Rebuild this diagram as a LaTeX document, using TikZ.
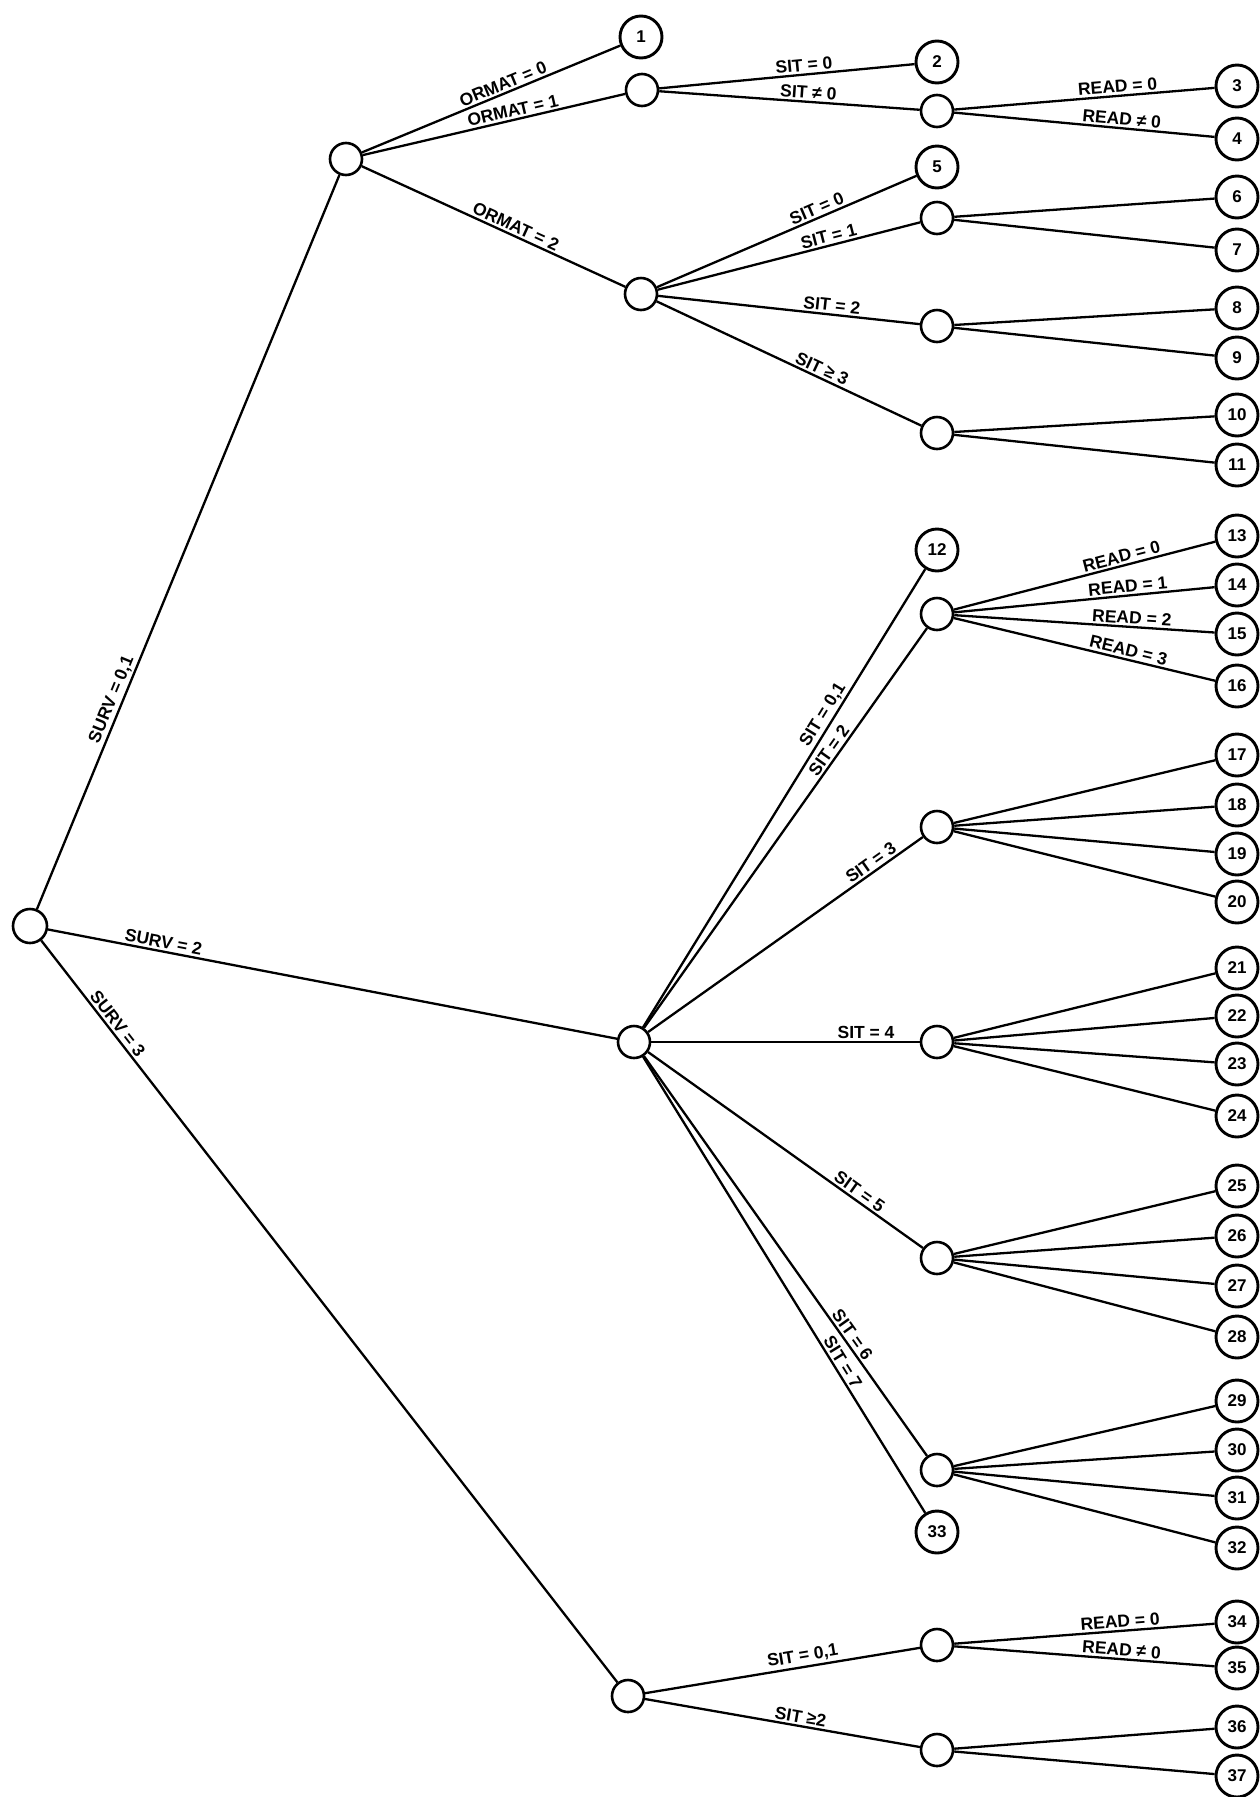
\documentclass[tikz,border=0pt]{standalone}
\usepackage{fontspec}
\setmainfont{Liberation Sans}
\begin{document}
\begin{tikzpicture}[x=1pt,y=-1pt,
  inner/.style={circle,draw,line width=2.6pt,minimum size=32pt,inner sep=0pt},
  leaf/.style={circle,draw,line width=2.9pt,minimum size=42pt,inner sep=0pt,font=\fontsize{17}{20}\selectfont\bfseries},
  edge/.style={line width=2.3pt},
  lab/.style={sloped,above,inner sep=2pt,font=\fontsize{17.5}{20}\selectfont\bfseries}]
\useasboundingbox[fill=white] (0,0) rectangle (1259,1797);
% nodes
\node[inner,minimum size=34pt] (root) at (30,926) {};
\node[inner] (A) at (346,159) {};
\node[leaf] (l1) at (641,37) {1};
\node[inner] (B) at (642,90) {};
\node[inner] (C) at (641,294) {};
\node[leaf] (l2) at (937,62) {2};
\node[inner] (D) at (937,111) {};
\node[leaf] (l3) at (1237,86) {3};
\node[leaf] (l4) at (1237,139) {4};
\node[leaf] (l5) at (937,167) {5};
\node[inner] (E) at (937,218) {};
\node[leaf] (l6) at (1237,197) {6};
\node[leaf] (l7) at (1237,250) {7};
\node[inner] (F) at (937,326) {};
\node[leaf] (l8) at (1237,308) {8};
\node[leaf] (l9) at (1237,358) {9};
\node[inner] (G) at (937,433) {};
\node[leaf] (l10) at (1237,415) {10};
\node[leaf] (l11) at (1237,465) {11};
\node[inner] (M) at (634,1042) {};
\node[leaf] (l12) at (937,550) {12};
\node[inner] (H) at (937,614) {};
\node[leaf] (l13) at (1237,536) {13};
\node[leaf] (l14) at (1237,585) {14};
\node[leaf] (l15) at (1237,634) {15};
\node[leaf] (l16) at (1237,686) {16};
\node[inner] (I) at (937,827) {};
\node[leaf] (l17) at (1237,755) {17};
\node[leaf] (l18) at (1237,805) {18};
\node[leaf] (l19) at (1237,854) {19};
\node[leaf] (l20) at (1237,902) {20};
\node[inner] (J) at (937,1042) {};
\node[leaf] (l21) at (1237,968) {21};
\node[leaf] (l22) at (1237,1016) {22};
\node[leaf] (l23) at (1237,1064) {23};
\node[leaf] (l24) at (1237,1116) {24};
\node[inner] (K) at (937,1258) {};
\node[leaf] (l25) at (1237,1186) {25};
\node[leaf] (l26) at (1237,1236) {26};
\node[leaf] (l27) at (1237,1286) {27};
\node[leaf] (l28) at (1237,1337) {28};
\node[inner] (Q) at (937,1470) {};
\node[leaf] (l29) at (1237,1401) {29};
\node[leaf] (l30) at (1237,1450) {30};
\node[leaf] (l31) at (1237,1498) {31};
\node[leaf] (l32) at (1237,1548) {32};
\node[leaf] (l33) at (937,1532) {33};
\node[inner] (N) at (628,1696) {};
\node[inner] (O) at (937,1645) {};
\node[leaf] (l34) at (1237,1622) {34};
\node[leaf] (l35) at (1237,1668) {35};
\node[inner] (P) at (937,1750) {};
\node[leaf] (l36) at (1237,1727) {36};
\node[leaf] (l37) at (1237,1776) {37};
% edges
\draw[edge] (root) -- node[lab,pos=0.28] {SURV = 0,1} (A);
\draw[edge] (root) -- node[lab,pos=0.2] {SURV = 2} (M);
\draw[edge] (root) -- node[lab,pos=0.12] {SURV = 3} (N);
\draw[edge] (A) -- node[lab,pos=0.56] {ORMAT = 0} (l1);
\draw[edge] (A) -- node[lab,pos=0.58] {ORMAT = 1} (B);
\draw[edge] (A) -- node[lab,pos=0.57] {ORMAT = 2} (C);
\draw[edge] (B) -- node[lab,pos=0.57] {SIT = 0} (l2);
\draw[edge] (B) -- node[lab,pos=0.57] {SIT ≠ 0} (D);
\draw[edge] (D) -- node[lab,pos=0.63] {READ = 0} (l3);
\draw[edge] (D) -- node[lab,pos=0.64] {READ ≠ 0} (l4);
\draw[edge] (C) -- node[lab,pos=0.63] {SIT = 0} (l5);
\draw[edge] (C) -- node[lab,pos=0.66] {SIT = 1} (E);
\draw[edge] (C) -- node[lab,pos=0.66] {SIT = 2} (F);
\draw[edge] (C) -- node[lab,pos=0.61] {SIT ≥ 3} (G);
\draw[edge] (E) -- (l6);
\draw[edge] (E) -- (l7);
\draw[edge] (F) -- (l8);
\draw[edge] (F) -- (l9);
\draw[edge] (G) -- (l10);
\draw[edge] (G) -- (l11);
\draw[edge] (M) -- node[lab,pos=0.67] {SIT = 0,1} (l12);
\draw[edge] (M) -- node[lab,pos=0.68] {SIT = 2} (H);
\draw[edge] (M) -- node[lab,pos=0.83] {SIT = 3} (I);
\draw[edge] (M) -- node[lab,pos=0.8] {SIT = 4} (J);
\draw[edge] (M) -- node[lab,pos=0.75] {SIT = 5} (K);
\draw[edge] (M) -- node[lab,pos=0.71] {SIT = 6} (Q);
\draw[edge] (M) -- node[lab,pos=0.68] {SIT = 7} (l33);
\draw[edge] (H) -- node[lab,pos=0.65] {READ = 0} (l13);
\draw[edge] (H) -- node[lab,pos=0.67] {READ = 1} (l14);
\draw[edge] (H) -- node[lab,pos=0.68] {READ = 2} (l15);
\draw[edge] (H) -- node[lab,pos=0.66] {READ = 3} (l16);
\foreach \s/\a/\b/\c/\d in {I/17/18/19/20, J/21/22/23/24, K/25/26/27/28, Q/29/30/31/32} {
  \draw[edge] (\s) -- (l\a);
  \draw[edge] (\s) -- (l\b);
  \draw[edge] (\s) -- (l\c);
  \draw[edge] (\s) -- (l\d);
}
\draw[edge] (N) -- node[lab,pos=0.58] {SIT = 0,1} (O);
\draw[edge] (N) -- node[lab,pos=0.56] {SIT ≥2} (P);
\draw[edge] (O) -- node[lab,pos=0.64] {READ = 0} (l34);
\draw[edge] (O) -- node[lab,pos=0.64] {READ ≠ 0} (l35);
\draw[edge] (P) -- (l36);
\draw[edge] (P) -- (l37);
\end{tikzpicture}
\end{document}
